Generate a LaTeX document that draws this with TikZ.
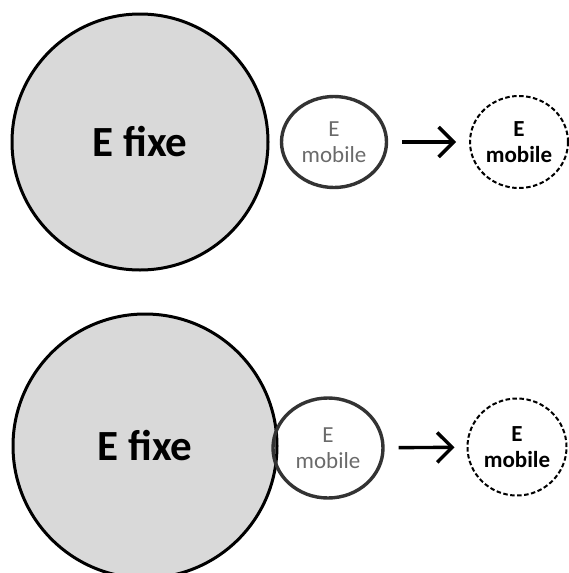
\documentclass[tikz,border=0pt]{standalone}
\usepackage{fontspec}
\setmainfont{Carlito}
\usetikzlibrary{shapes.geometric,arrows.meta}
\definecolor{fixgray}{HTML}{D9D9D9}
\definecolor{txtgray}{HTML}{6A6A6A}
\begin{document}
\begin{tikzpicture}[x=1pt,y=1pt,
    fixe/.style={circle,draw,line width=3pt,fill=fixgray,inner sep=0pt,
      font=\fontsize{43}{48}\selectfont\bfseries},
    mobile/.style={ellipse,draw=black!80,line width=3.4pt,inner sep=0pt,align=center,
      text=txtgray,font=\fontsize{23}{26}\selectfont},
    ghost/.style={ellipse,draw,line width=2pt,dash pattern=on 4.5pt off 2.5pt,
      inner sep=0pt,align=center,font=\fontsize{23}{26}\selectfont\bfseries},
    move/.style={-{Straight Barb[scale=1.8]},line width=3.4pt}]
  \useasboundingbox (0,0) rectangle (568,-573);

  % first case
  \path (140,-142) node[fixe,minimum size=256pt] (F1) {\raisebox{-5pt}{E fixe}};
  \path (334,-142) node[mobile,minimum width=105pt,minimum height=91pt] (M1) {E\\mobile};
  \path (519,-142) node[ghost,minimum width=98pt,minimum height=92pt] (G1) {E\\mobile};
  \draw[move,shorten <=14pt,shorten >=13pt] (M1) -- (G1);

  % second case
  \path (145,-446) node[fixe,minimum size=264pt] (F2) {\raisebox{-5pt}{E fixe}};
  \path (328,-448) node[mobile,minimum width=110pt,minimum height=100pt] (M2) {E\\mobile};
  \path (517,-447) node[ghost,minimum width=99pt,minimum height=97pt] (G2) {E\\mobile};
  \draw[move,shorten <=14pt,shorten >=12pt] (M2) -- (G2);
\end{tikzpicture}
\end{document}
